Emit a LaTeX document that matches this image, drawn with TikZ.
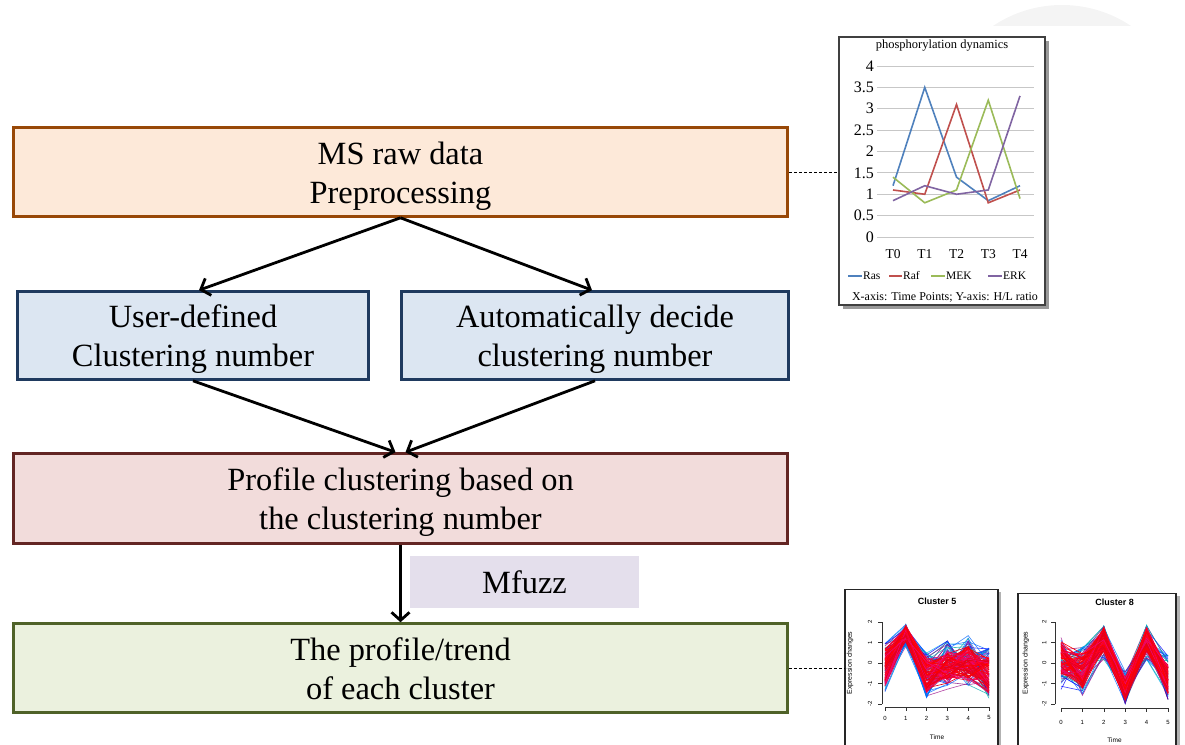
\documentclass[tikz,border=0pt]{standalone}
\usepackage{fontspec}
\setmainfont{Liberation Serif}
\newfontfamily\plotsans{Liberation Sans}
\usetikzlibrary{arrows.meta,calc}

\definecolor{rawfill}{HTML}{FDE9D9}
\definecolor{rawedge}{HTML}{984807}
\definecolor{numfill}{HTML}{DCE6F2}
\definecolor{numedge}{HTML}{1F3A5F}
\definecolor{clufill}{HTML}{F2DCDB}
\definecolor{cluedge}{HTML}{632523}
\definecolor{trefill}{HTML}{EBF1DE}
\definecolor{treedge}{HTML}{4F6228}
\definecolor{fuzzfill}{HTML}{E4DFEC}
\definecolor{rascol}{HTML}{4F81BD}
\definecolor{rafcol}{HTML}{C0504D}
\definecolor{mekcol}{HTML}{9BBB59}
\definecolor{erkcol}{HTML}{8064A2}

% struts that keep two-line labels evenly placed in their boxes
\newcommand\linetop{\rule{0pt}{31pt}}
\newcommand\linebot{\rule[-8pt]{0pt}{8pt}}

\pgfmathdeclarerandomlist{cool}{{blue}{cyan}{violet}{blue!60!cyan}{magenta!60!blue}{cyan!60!green}}
\pgfmathdeclarerandomlist{warm}{{red}{red!85!magenta}{red!90!blue}{magenta!70!red}}

\begin{document}
\begin{tikzpicture}[x=1pt,y=-1pt,
  flow/.style={draw, line width=2.6pt, align=center, inner sep=0pt,
    font=\fontsize{32.4}{39}\selectfont},
  link/.style={line width=2.8pt, -{Straight Barb[length=8pt,width=18pt]}},
  tie/.style={line width=1pt, dash pattern=on 3pt off 2pt},
  frame/.style={draw=black!75, line width=1.2pt, fill=white, inner sep=0pt},
  grid/.style={draw=black!22, line width=0.8pt},
  series/.style={line width=1.6pt},
  tick/.style={font=\plotsans\fontsize{6}{6}\selectfont, inner sep=0pt},
  trace/.style={line width=0.65pt},
  axisline/.style={line width=0.6pt, draw=black!80}]

\path[use as bounding box, clip] (0,0) rectangle (1185,744);

% faint emblem at the top edge
\begin{scope}
  \clip (980,0) rectangle (1150,25);
  \fill[gray!9] (1062,129) circle (124);
\end{scope}

% ---------------- flow chart ----------------
\node[flow, fill=rawfill, draw=rawedge, minimum width=774pt, minimum height=89pt]
  (raw) at (400.5,172) {\linetop MS raw data\\Preprocessing\linebot};
\node[flow, fill=numfill, draw=numedge, minimum width=351pt, minimum height=88pt]
  (user) at (193,335.5) {\linetop User-defined\\Clustering number\linebot};
\node[flow, fill=numfill, draw=numedge, minimum width=387pt, minimum height=88pt]
  (auto) at (595,335.5) {\linetop Automatically decide\\clustering number\linebot};
\node[flow, fill=clufill, draw=cluedge, minimum width=774pt, minimum height=90pt]
  (prof) at (400.5,498.5) {\linetop Profile clustering based on\\the clustering number\linebot};
\node[flow, fill=trefill, draw=treedge, minimum width=774pt, minimum height=89pt]
  (trend) at (400.5,668) {\linetop The profile/trend\\of each cluster\linebot};
\node[fill=fuzzfill, minimum width=229pt, minimum height=52pt, inner sep=0pt,
  font=\fontsize{32.4}{39}\selectfont] (fuzz) at (524.5,582) {Mfuzz};

\draw[link] (raw.south) -- ([xshift=6pt]user.north);
\draw[link] (raw.south) -- ([xshift=-3pt]auto.north);
\draw[link] (user.south) -- ([xshift=-5pt]prof.north);
\draw[link] (auto.south) -- ([xshift=5pt]prof.north);
\draw[link] (prof.south) -- (trend.north);

% ---------------- phosphorylation chart ----------------
\fill[black!40] (843,41) rectangle (1049,309);
\node[frame, minimum width=206pt, minimum height=268pt] (phos) at (942,171) {};
\draw[tie] (raw.east) -- (raw.east -| phos.west);

\node[font=\fontsize{12.5}{12.5}\selectfont, inner sep=0pt] (phtitle) at (942,46) {phosphorylation dynamics};
\begin{scope}[shift={(893,237)}, x=31.75pt, y=42.75pt]
  \foreach \v in {0,0.5,1,1.5,2,2.5,3,3.5,4}{
    \draw[grid] (-0.5,\v) -- (4.45,\v);
    \node[anchor=east, inner sep=0pt, font=\fontsize{16}{16}\selectfont] at (-0.6,\v) {\v};
  }
  \foreach \i in {0,...,4}
    \node[inner sep=0pt, font=\fontsize{13.5}{13.5}\selectfont] at (\i,-0.4) {T\i};
  \draw[series, rascol] (0,1.2) -- (1,3.5) -- (2,1.4) -- (3,0.85) -- (4,1.2);
  \draw[series, rafcol] (0,1.1) -- (1,1.0) -- (2,3.1) -- (3,0.8) -- (4,1.1);
  \draw[series, mekcol] (0,1.4) -- (1,0.8) -- (2,1.1) -- (3,3.2) -- (4,0.9);
  \draw[series, erkcol] (0,0.85) -- (1,1.2) -- (2,1.0) -- (3,1.1) -- (4,3.3);
\end{scope}
% legend
\begin{scope}[every node/.style={anchor=west, inner sep=0pt, font=\fontsize{11.5}{11.5}\selectfont}]
  \draw[series, rascol] (848,276) -- (862,276);
  \node at (863,276) {Ras};
  \draw[series, rafcol] (889,276) -- (902,276);
  \node at (903,276) {Raf};
  \draw[series, mekcol] (931,276) -- (945,276);
  \node at (946,276) {MEK};
  \draw[series, erkcol] (988,276) -- (1002,276);
  \node at (1003,276) {ERK};
\end{scope}
\node[font=\fontsize{12}{12}\selectfont, inner sep=0pt] (phcap) at (945,297)
  {X-axis: Time Points; Y-axis: H/L ratio};

% ---------------- cluster plots ----------------
\fill[black!30] (848,592) rectangle (1001,760);
\node[frame, draw=black!85, minimum width=153pt, minimum height=165pt] (c5) at (921.5,672) {};
\fill[black!30] (1021,596) rectangle (1180,760);
\node[frame, draw=black!85, minimum width=158pt, minimum height=165pt] (c8) at (1097,676) {};
\draw[tie] (trend.east) -- (trend.east -| c5.west);

\pgfmathsetseed{17}
% Cluster 5
\begin{scope}[shift={(885,663)}, x=20.8pt, y=20.5pt]
  \foreach \k in {1,...,50}{
    \pgfmathrandomitem\hue{cool}
    \pgfmathsetmacro\pa{-0.2+1.2*rand}
    \pgfmathsetmacro\pb{1.35+0.55*rand}
    \pgfmathsetmacro\pc{-0.6+1.1*rand}
    \pgfmathsetmacro\pd{-0.1+1.2*rand}
    \pgfmathsetmacro\pe{0.1+1.25*rand}
    \pgfmathsetmacro\pf{-0.5+1.25*rand}
    \draw[trace, color=\hue, opacity=0.75] (0,\pa) -- (1,\pb) -- (2,\pc) -- (3,\pd) -- (4,\pe) -- (5,\pf);
  }
  \foreach \k in {1,...,80}{
    \pgfmathrandomitem\hue{warm}
    \pgfmathsetmacro\pa{-0.2+0.9*rand}
    \pgfmathsetmacro\pb{1.45+0.4*rand}
    \pgfmathsetmacro\pc{-0.6+0.85*rand}
    \pgfmathsetmacro\pd{-0.2+0.8*rand}
    \pgfmathsetmacro\pe{0.0+0.85*rand}
    \pgfmathsetmacro\pf{-0.6+0.9*rand}
    \draw[trace, color=\hue] (0,\pa) -- (1,\pb) -- (2,\pc) -- (3,\pd) -- (4,\pe) -- (5,\pf);
  }
  \draw[axisline] (-0.15,-2) -- (-0.15,2);
  \foreach \v in {-2,...,2}{
    \draw[axisline] (-0.15,\v) -- (-0.35,\v);
    \node[tick, rotate=90] at (-0.72,\v) {\v};
  }
  \draw[axisline] (0,-2.15) -- (5,-2.15);
  \foreach \t in {0,...,5}{
    \draw[axisline] (\t,-2.15) -- (\t,-2.35);
    \node[tick] at (\t,-2.68) {\t};
  }
  \node[tick, font=\plotsans\fontsize{6.5}{6.5}\selectfont] at (2.5,-3.6) {Time};
  \node[tick, rotate=90, font=\plotsans\fontsize{7}{7}\selectfont] at (-1.68,0) {Expression changes};
  \node[inner sep=0pt, font=\plotsans\bfseries\fontsize{9}{9}\selectfont] at (2.5,3.0) {Cluster 5};
\end{scope}

% Cluster 8
\begin{scope}[shift={(1061,663)}, x=21.4pt, y=20.5pt]
  \foreach \k in {1,...,50}{
    \pgfmathrandomitem\hue{cool}
    \pgfmathsetmacro\pa{0.0+1.4*rand}
    \pgfmathsetmacro\pb{-0.4+1.2*rand}
    \pgfmathsetmacro\pc{1.0+0.85*rand}
    \pgfmathsetmacro\pd{-1.2+0.8*rand}
    \pgfmathsetmacro\pe{1.0+0.85*rand}
    \pgfmathsetmacro\pf{-0.7+1.1*rand}
    \draw[trace, color=\hue, opacity=0.75] (0,\pa) -- (1,\pb) -- (2,\pc) -- (3,\pd) -- (4,\pe) -- (5,\pf);
  }
  \foreach \k in {1,...,80}{
    \pgfmathrandomitem\hue{warm}
    \pgfmathsetmacro\pa{0.2+0.85*rand}
    \pgfmathsetmacro\pb{-0.4+0.85*rand}
    \pgfmathsetmacro\pc{1.15+0.6*rand}
    \pgfmathsetmacro\pd{-1.25+0.55*rand}
    \pgfmathsetmacro\pe{1.15+0.6*rand}
    \pgfmathsetmacro\pf{-0.8+0.7*rand}
    \draw[trace, color=\hue] (0,\pa) -- (1,\pb) -- (2,\pc) -- (3,\pd) -- (4,\pe) -- (5,\pf);
  }
  \draw[axisline] (-0.28,-2) -- (-0.28,2);
  \foreach \v in {-2,...,2}{
    \draw[axisline] (-0.28,\v) -- (-0.45,\v);
    \node[tick, rotate=90] at (-0.78,\v) {\v};
  }
  \draw[axisline] (0,-2.2) -- (5,-2.2);
  \foreach \t in {0,...,5}{
    \draw[axisline] (\t,-2.2) -- (\t,-2.4);
    \node[tick] at (\t,-2.88) {\t};
  }
  \node[tick, font=\plotsans\fontsize{6.5}{6.5}\selectfont] at (2.5,-3.75) {Time};
  \node[tick, rotate=90, font=\plotsans\fontsize{7}{7}\selectfont] at (-1.64,0) {Expression changes};
  \node[inner sep=0pt, font=\plotsans\bfseries\fontsize{9}{9}\selectfont] at (2.5,2.98) {Cluster 8};
\end{scope}

\end{tikzpicture}
\end{document}
